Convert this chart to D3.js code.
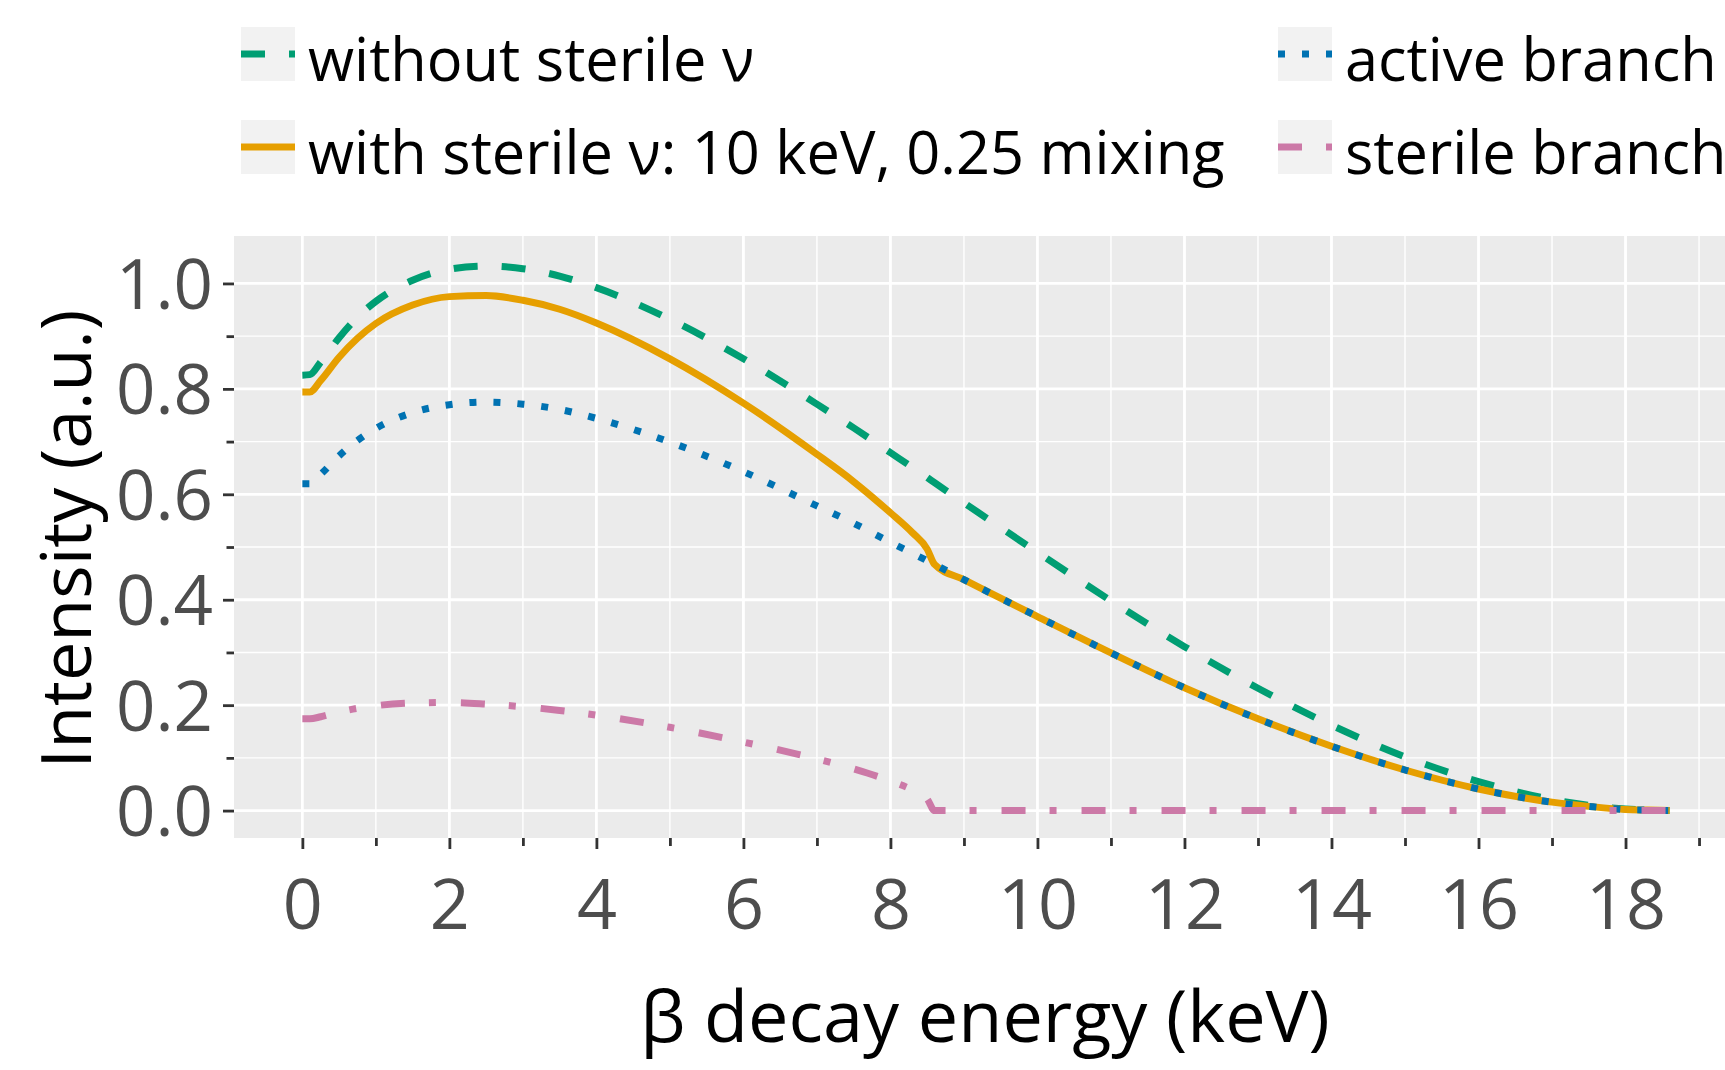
<!DOCTYPE html>
<html>
<head>
<meta charset="utf-8">
<script src="https://cdn.jsdelivr.net/npm/d3@7"></script>
<style>
  body { margin: 0; background: #ffffff; }
  text { font-family: "Open Sans", "Noto Sans", sans-serif; }
</style>
</head>
<body>
<svg id="chart" width="1725" height="1070"></svg>
<script>
// ---- data ----
const energy = [0, 0.1, 0.25, 0.5, 0.75, 1, 1.5, 2, 2.5, 3, 3.5, 4, 5, 6, 7, 7.5, 8, 8.3, 8.5, 8.6,
                9, 10, 11, 12, 13, 14, 15, 16, 17, 17.5, 18, 18.3, 18.6];
const withoutSterile = [0.826, 0.827, 0.851, 0.897, 0.936, 0.966, 1.006, 1.027, 1.033, 1.028, 1.014, 0.992,
                        0.932, 0.857, 0.771, 0.726, 0.679, 0.651, 0.632, 0.622,
                        0.584, 0.490, 0.398, 0.311, 0.232, 0.162, 0.102, 0.055, 0.021, 0.010, 0.003, 0.001, 0];
const withSterile = [0.794, 0.794, 0.816, 0.860, 0.896, 0.924, 0.959, 0.975, 0.977, 0.968, 0.951, 0.925,
                     0.857, 0.773, 0.676, 0.624, 0.565, 0.527, 0.496, 0.467,
                     0.438, 0.368, 0.299, 0.233, 0.174, 0.122, 0.077, 0.041, 0.016, 0.008, 0.002, 0.001, 0];
const activeBranch = [0.620, 0.620, 0.638, 0.673, 0.702, 0.725, 0.755, 0.770, 0.775, 0.771, 0.761, 0.744,
                      0.699, 0.643, 0.578, 0.545, 0.509, 0.488, 0.474, 0.467,
                      0.438, 0.368, 0.299, 0.233, 0.174, 0.122, 0.077, 0.041, 0.016, 0.008, 0.002, 0.001, 0];
const sterileBranch = [0.174, 0.174, 0.178, 0.187, 0.194, 0.199, 0.204, 0.205, 0.202, 0.197, 0.190, 0.181,
                       0.158, 0.130, 0.098, 0.079, 0.056, 0.039, 0.022, 0,
                       0, 0, 0, 0, 0, 0, 0, 0, 0, 0, 0, 0, 0];

const seriesNames = ["without sterile ν", "with sterile ν: 10 keV, 0.25 mixing", "active branch", "sterile branch"];
const seriesValues = [withoutSterile, withSterile, activeBranch, sterileBranch];
const seriesColors = ["#009E73", "#E69F00", "#0072B2", "#CC79A7"];
const seriesDash = ["24,24", null, "7,17", "24,24,7,25"];

const xMajorTicks = [0, 2, 4, 6, 8, 10, 12, 14, 16, 18];
const xMinorTicks = [1, 3, 5, 7, 9, 11, 13, 15, 17, 19];
const yMajorTicks = [0, 0.2, 0.4, 0.6, 0.8, 1.0];
const yMinorTicks = [0.1, 0.3, 0.5, 0.7, 0.9];
const xTitle = "β decay energy (keV)";
const yTitle = "Intensity (a.u.)";

// ---- layout ----
const svg = d3.select("#chart");
const panel = { left: 234, right: 1738, top: 236, bottom: 838 };
const x = d3.scaleLinear().domain([-0.93, 19.53]).range([panel.left, panel.right]);
const y = d3.scaleLinear().domain([-0.052, 1.09]).range([panel.bottom, panel.top]);

// panel background
svg.append("rect")
  .attr("x", panel.left).attr("y", panel.top)
  .attr("width", panel.right - panel.left).attr("height", panel.bottom - panel.top)
  .attr("fill", "#EBEBEB");

// grid
const grid = svg.append("g");
grid.selectAll(".vminor").data(xMinorTicks).join("line")
  .attr("x1", d => x(d)).attr("x2", d => x(d)).attr("y1", panel.top).attr("y2", panel.bottom)
  .attr("stroke", "#fff").attr("stroke-width", 1.4);
grid.selectAll(".hminor").data(yMinorTicks).join("line")
  .attr("x1", panel.left).attr("x2", panel.right).attr("y1", d => y(d)).attr("y2", d => y(d))
  .attr("stroke", "#fff").attr("stroke-width", 1.4);
grid.selectAll(".vmajor").data(xMajorTicks).join("line")
  .attr("x1", d => x(d)).attr("x2", d => x(d)).attr("y1", panel.top).attr("y2", panel.bottom)
  .attr("stroke", "#fff").attr("stroke-width", 2.8);
grid.selectAll(".hmajor").data(yMajorTicks).join("line")
  .attr("x1", panel.left).attr("x2", panel.right).attr("y1", d => y(d)).attr("y2", d => y(d))
  .attr("stroke", "#fff").attr("stroke-width", 2.8);

// series lines
const line = d3.line().x(d => x(d[0])).y(d => y(d[1])).curve(d3.curveMonotoneX);
seriesValues.forEach((vals, i) => {
  const pts = energy.map((e, j) => [e, vals[j]]);
  svg.append("path")
    .attr("d", line(pts))
    .attr("fill", "none")
    .attr("stroke", seriesColors[i])
    .attr("stroke-width", 7)
    .attr("stroke-linejoin", "round")
    .attr("stroke-dasharray", seriesDash[i]);
});

// x axis (ticks + labels)
const xAxisG = svg.append("g").attr("transform", `translate(0,${panel.bottom})`);
xAxisG.call(d3.axisBottom(x).tickValues(xMajorTicks).tickSize(11).tickPadding(30).tickFormat(d3.format("d")));
const xMinorG = svg.append("g").attr("transform", `translate(0,${panel.bottom})`);
xMinorG.call(d3.axisBottom(x).tickValues(xMinorTicks).tickSize(8).tickFormat(""));
[xAxisG, xMinorG].forEach(g => {
  g.select(".domain").remove();
  g.selectAll(".tick line").attr("stroke", "#333333").attr("stroke-width", 2.8);
});
xAxisG.selectAll(".tick text")
  .attr("fill", "#4D4D4D").attr("font-size", 70).attr("font-family", "Open Sans, sans-serif")
  .attr("dy", "0.71em");

// y axis
const yAxisG = svg.append("g").attr("transform", `translate(${panel.left},0)`);
yAxisG.call(d3.axisLeft(y).tickValues(yMajorTicks).tickSize(11).tickPadding(10).tickFormat(d3.format(".1f")));
const yMinorG = svg.append("g").attr("transform", `translate(${panel.left},0)`);
yMinorG.call(d3.axisLeft(y).tickValues(yMinorTicks).tickSize(7.5).tickFormat(""));
[yAxisG, yMinorG].forEach(g => {
  g.select(".domain").remove();
  g.selectAll(".tick line").attr("stroke", "#333333").attr("stroke-width", 2.8);
});
yAxisG.selectAll(".tick text")
  .attr("fill", "#4D4D4D").attr("font-size", 69).attr("font-family", "Open Sans, sans-serif")
  .attr("dy", "0.36em");

// axis titles
svg.append("text")
  .attr("x", 985).attr("y", 1042)
  .attr("text-anchor", "middle").attr("font-size", 72).attr("fill", "#000")
  .text(xTitle);
svg.append("text")
  .attr("transform", "translate(91,539) rotate(-90)")
  .attr("text-anchor", "middle").attr("font-size", 70).attr("fill", "#000")
  .text(yTitle);

// legend
const legendCols = [241, 1278];
const legendRows = [27, 120];
const keyW = 54, keyH = 54;
seriesNames.forEach((name, i) => {
  const col = Math.floor(i / 2), row = i % 2;
  const kx = legendCols[col], ky = legendRows[row];
  const g = svg.append("g");
  g.append("rect").attr("x", kx).attr("y", ky).attr("width", keyW).attr("height", keyH).attr("fill", "#F2F2F2");
  g.append("line")
    .attr("x1", kx).attr("x2", kx + keyW)
    .attr("y1", ky + keyH / 2).attr("y2", ky + keyH / 2)
    .attr("stroke", seriesColors[i]).attr("stroke-width", 7)
    .attr("stroke-dasharray", seriesDash[i]);
  g.append("text")
    .attr("x", kx + keyW + 13).attr("y", ky + keyH)
    .attr("font-size", 59.5).attr("fill", "#000")
    .text(name);
});
</script>
</body>
</html>
